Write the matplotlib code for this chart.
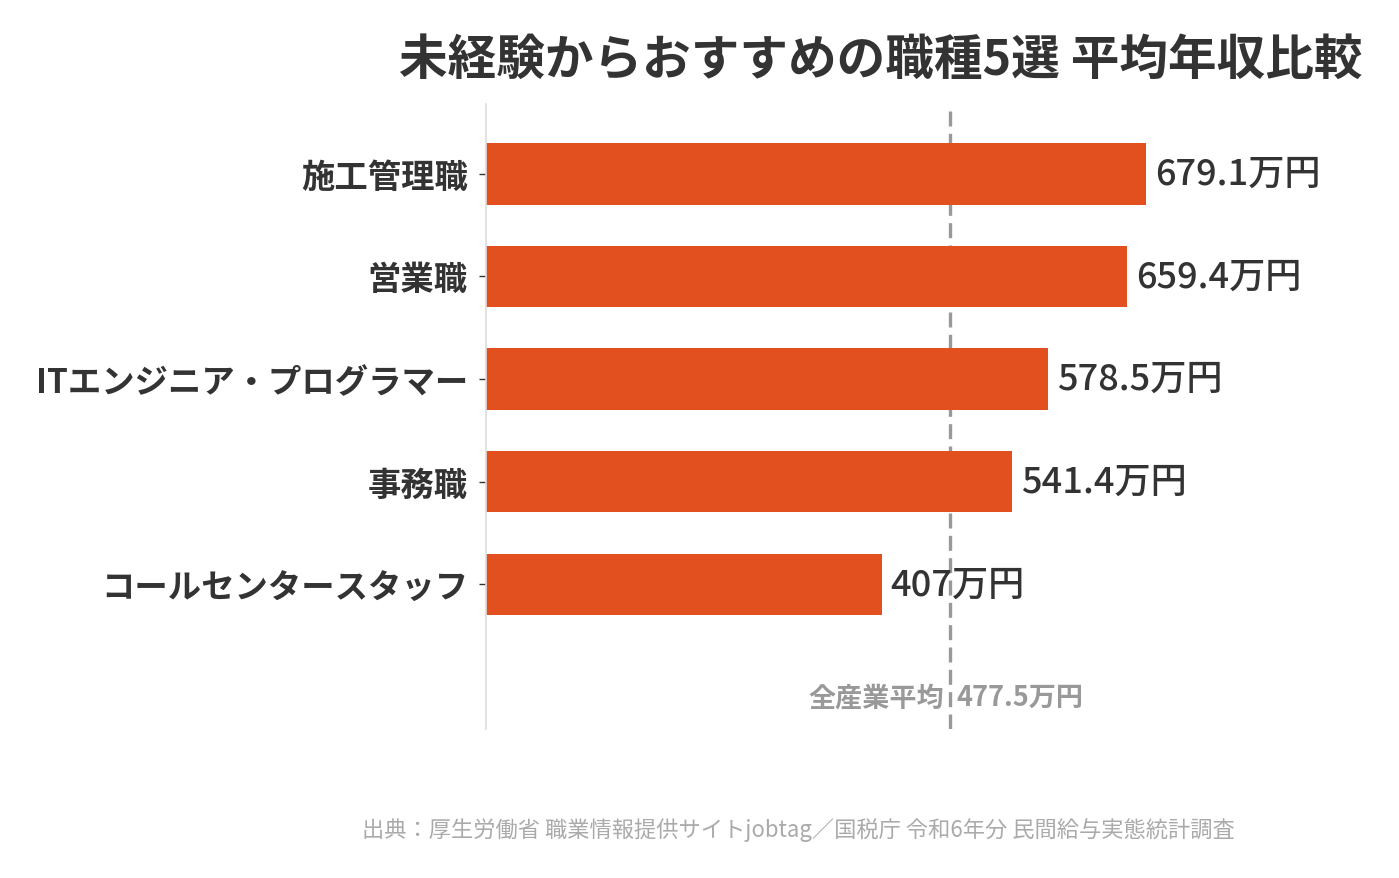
import matplotlib
matplotlib.use("Agg")
import matplotlib.pyplot as plt

plt.rcParams['font.family'] = ['Noto Sans CJK JP', 'DejaVu Sans']

# データ
jobs = ['施工管理職', '営業職', 'ITエンジニア・プログラマー', '事務職', 'コールセンタースタッフ']
salary = [679.1, 659.4, 578.5, 541.4, 407]
value_labels = ['679.1万円', '659.4万円', '578.5万円', '541.4万円', '407万円']
avg_all = 477.5
avg_label = '全産業平均'
avg_value_label = '477.5万円'

title = '未経験からおすすめの職種5選 平均年収比較'
source = '出典：厚生労働省 職業情報提供サイトjobtag／国税庁 令和6年分 民間給与実態統計調査'

bar_color = '#E3501F'
text_color = '#333333'
gray = '#999999'

fig = plt.figure(figsize=(13.99, 8.79), dpi=100)
ax = fig.add_axes([486 / 1399, 1 - 730 / 879, (1360 - 486) / 1399, (730 - 105) / 879])

y = list(range(len(jobs)))
ax.barh(y, salary, height=0.6, color=bar_color, zorder=2)

# 値ラベル
for yi, v, lab in zip(y, salary, value_labels):
    ax.text(v + 9, yi, lab, va='center', ha='left', fontsize=26, color=text_color, fontweight='medium')

# 全産業平均（破線は棒の後ろ）
ax.axvline(avg_all, color=gray, linestyle=(0, (4.5, 2.2)), linewidth=2.4, zorder=1)
ax.text(avg_all - 6, 5.1, avg_label, ha='right', va='center', fontsize=19.5, color=gray, fontweight='bold')
ax.text(avg_all + 6, 5.1, avg_value_label, ha='left', va='center', fontsize=19.5, color=gray, fontweight='bold')

ax.set_xlim(0, 899)
ax.set_ylim(5.41, -0.68)
ax.set_yticks(y)
ax.set_yticklabels(jobs, fontsize=24, fontweight='bold', color=text_color)
ax.tick_params(axis='y', length=5, width=1, color=text_color, pad=8)
ax.set_xticks([])

for s in ['top', 'right', 'bottom']:
    ax.spines[s].set_visible(False)
ax.spines['left'].set_color('#dddddd')
ax.spines['left'].set_linewidth(1.2)

fig.text(881 / 1399, 1 - 60 / 879, title, ha='center', va='center', fontsize=35, fontweight='bold', color=text_color)
fig.text(798 / 1399, 1 - 830 / 879, source, ha='center', va='center', fontsize=16, color='#aaaaaa')

fig.savefig('out.png', dpi=100, facecolor='white')
